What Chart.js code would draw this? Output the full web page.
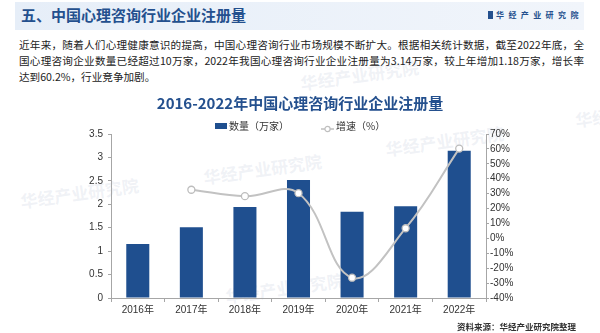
<!DOCTYPE html>
<html lang="zh">
<head>
<meta charset="utf-8">
<script src="https://cdn.jsdelivr.net/npm/chart.js@4/dist/chart.umd.min.js"></script>
<style>
  body { margin: 0; background: #fff; }
  #page { position: relative; width: 600px; height: 333px; overflow: hidden; font-family: "Noto Sans CJK SC", sans-serif; color: #222; }
  .band { position: absolute; left: 15px; top: 2px; width: 569px; height: 28px; background: linear-gradient(to right, #e6eef8, #f1f5fb); }
  .head { position: absolute; left: 21px; top: 4px; font-size: 15px; font-weight: bold; color: #24508e; line-height: 22px; }
  .logo { position: absolute; left: 488px; top: 9px; font-size: 8px; font-weight: bold; color: #24508e; letter-spacing: 4.4px; line-height: 12px; }
  .logo i { display: inline-block; width: 5px; height: 8px; background: #24508e; margin-right: 3px; vertical-align: -1px; }
  .para { position: absolute; left: 19px; top: 37px; width: 565px; font-size: 10.6px; line-height: 16px; }
  .para div { white-space: nowrap; }
  .para .j { text-align: justify; text-align-last: justify; white-space: normal; }
  .wm { position: absolute; font-size: 17px; font-weight: bold; color: rgba(175, 188, 210, 0.2); transform: rotate(-8deg); white-space: nowrap; }
  #box { position: absolute; left: 0; top: 92px; width: 600px; height: 241px; }
  .legend { position: absolute; top: 119px; left: 0; width: 600px; height: 14px; font-size: 10px; line-height: 14px; color: #333; }
  .legend span { position: absolute; }
  .src { position: absolute; left: 457px; top: 320px; font-size: 8.5px; font-weight: bold; color: #333; line-height: 12px; }
</style>
</head>
<body>
<div id="page">
  <div class="band"></div>
  <div class="head">五、中国心理咨询行业企业注册量</div>
  <div class="logo"><i></i>华经产业研究院</div>

  <div class="wm" style="left:300px;top:62px">华经产业研究院</div>
  <div class="wm" style="left:20px;top:180px">华经产业研究院</div>
  <div class="wm" style="left:203px;top:156px">华经产业研究院</div>
  <div class="wm" style="left:385px;top:128px">华经产业研究院</div>
  <div class="wm" style="left:225px;top:275px">华经产业研究院</div>
  <div class="wm" style="left:575px;top:105px">华经</div>

  <div class="para">
    <div class="j">近年来，随着人们心理健康意识的提高，中国心理咨询行业市场规模不断扩大。根据相关统计数据，截至2022年底，全</div>
    <div class="j">国心理咨询企业数量已经超过10万家，2022年我国心理咨询行业企业注册量为3.14万家，较上年增加1.18万家，增长率</div>
    <div>达到60.2%，行业竞争加剧。</div>
  </div>

  <div id="box"><canvas id="regChart"></canvas></div>

  <div class="legend">
    <span style="left:215px;top:4px;width:12px;height:6px;background:#1f4f8f"></span>
    <span style="left:229px">数量（万家）</span>
    <span style="left:321px;top:3px"><svg width="13" height="8"><line x1="0" y1="4" x2="13" y2="4" stroke="#bfbfbf" stroke-width="1.5"/><circle cx="6.5" cy="4" r="2.6" fill="#fff" stroke="#bfbfbf" stroke-width="1.2"/></svg></span>
    <span style="left:336px">增速（%）</span>
  </div>

  <div class="src">资料来源：华经产业研究院整理</div>
</div>

<script>
// 企业注册量（万家）与同比增速（%）
const years = ['2016年', '2017年', '2018年', '2019年', '2020年', '2021年', '2022年'];
const counts = [1.15, 1.51, 1.94, 2.52, 1.84, 1.96, 3.14];
const growth = [null, 32.6, 28.3, 30.3, -26.4, 6.8, 60.2];

const countTicks = { min: 0, max: 3.5, step: 0.5 };
const growthTicks = { min: -40, max: 70, step: 10 };

const tickFont = { family: "'Liberation Sans', 'Noto Sans CJK SC'", size: 10 };
const axisGray = '#a6a6a6';

const ctx = document.getElementById('regChart').getContext('2d');
const regChart = new Chart(ctx, {
    type: 'bar',
    data: {
        labels: years,
        datasets: [{
            type: 'line',
            label: '增速（%）',
            data: growth,
            yAxisID: 'y1',
            borderColor: '#c2c2c2',
            borderWidth: 2,
            tension: 0.4,
            pointRadius: 3.5,
            pointBackgroundColor: '#fff',
            pointBorderColor: '#bdbdbd',
            pointBorderWidth: 1.3,
            order: 0
        }, {
            label: '数量（万家）',
            data: counts,
            yAxisID: 'y',
            backgroundColor: '#1f4f8f',
            barPercentage: 0.43,
            categoryPercentage: 1,
            order: 1
        }]
    },
    options: {
        responsive: true,
        maintainAspectRatio: false,
        animation: false,
        layout: { padding: 0 },
        plugins: {
            legend: { display: false },
            tooltip: { enabled: false },
            title: {
                display: true,
                text: '2016-2022年中国心理咨询行业企业注册量',
                color: '#24508e',
                font: { family: "'Noto Sans CJK SC'", size: 15, weight: 'bold', lineHeight: 1.2 },
                padding: { top: 2, bottom: 22 }
            }
        },
        scales: {
            x: {
                grid: { drawOnChartArea: false, tickLength: 4, color: axisGray },
                border: { color: axisGray },
                ticks: { color: '#333', font: tickFont, padding: 2, maxRotation: 0 },
                afterFit: scale => { scale.height = 35; }
            },
            y: {
                position: 'left',
                min: countTicks.min,
                max: countTicks.max,
                grid: { drawOnChartArea: false, tickLength: 3, color: axisGray },
                border: { color: axisGray },
                ticks: { stepSize: countTicks.step, autoSkip: false, color: '#333', font: tickFont, padding: 5, callback: v => String(v) },
                afterFit: scale => { scale.width = 111; }
            },
            y1: {
                position: 'right',
                min: growthTicks.min,
                max: growthTicks.max,
                grid: { drawOnChartArea: false, tickLength: 3, color: axisGray },
                border: { color: axisGray },
                ticks: { stepSize: growthTicks.step, autoSkip: false, color: '#333', font: tickFont, padding: 1, callback: v => v + '%' },
                afterFit: scale => { scale.width = 114; }
            }
        }
    }
});
</script>
</body>
</html>
